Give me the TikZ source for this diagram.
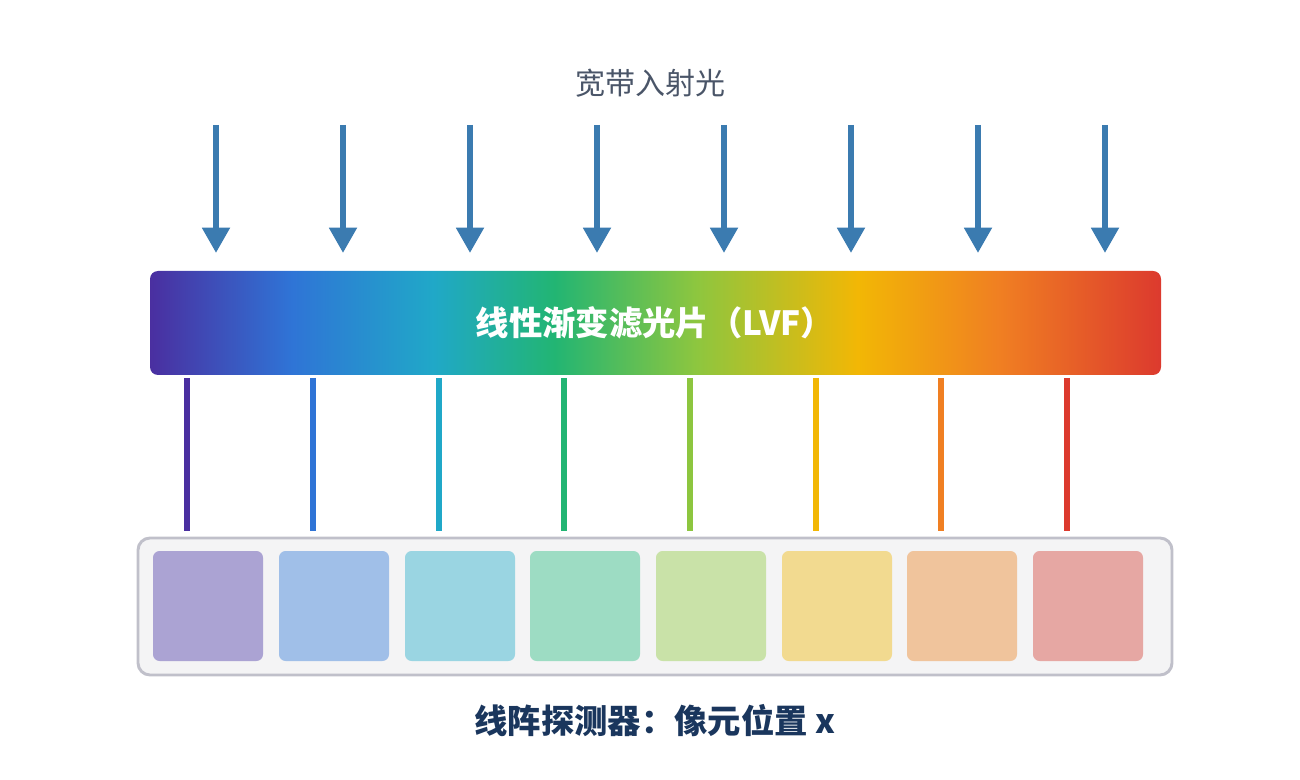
\documentclass[tikz,border=0pt]{standalone}
\usepackage{fontspec}
\setmainfont{Noto Sans CJK SC}
\usetikzlibrary{arrows.meta,positioning}
\definecolor{rayblue}{HTML}{3B7BB0}
\definecolor{titlegray}{HTML}{4A5568}
\definecolor{navy}{HTML}{1A365D}
\definecolor{lvfA}{HTML}{4A2FA0}
\definecolor{lvfB}{HTML}{2F74D6}
\definecolor{lvfC}{HTML}{20A8C8}
\definecolor{lvfD}{HTML}{22B573}
\definecolor{lvfE}{HTML}{8DC63F}
\definecolor{lvfF}{HTML}{F2B705}
\definecolor{lvfG}{HTML}{F07F22}
\definecolor{lvfH}{HTML}{DC3A2E}
\definecolor{pixA}{HTML}{ABA3D3}
\definecolor{pixB}{HTML}{A0BFE8}
\definecolor{pixC}{HTML}{9AD5E2}
\definecolor{pixD}{HTML}{9DDCC3}
\definecolor{pixE}{HTML}{C9E2A8}
\definecolor{pixF}{HTML}{F2DA90}
\definecolor{pixG}{HTML}{F0C49C}
\definecolor{pixH}{HTML}{E6A7A3}
\pgfdeclarehorizontalshading{lvf}{100bp}{color(0bp)=(lvfA); color(25bp)=(lvfA);
  color(32bp)=(lvfB); color(39bp)=(lvfC); color(45bp)=(lvfD); color(52bp)=(lvfE);
  color(60bp)=(lvfF); color(67bp)=(lvfG); color(75bp)=(lvfH); color(100bp)=(lvfH)}
\tikzset{
  ray/.style={rayblue, line width=4.5pt, -{Triangle[width=20pt,length=19pt]}},
  beam/.style={line width=5pt},
  pixel/.style={rounded corners=5pt},
}

\begin{document}
\begin{tikzpicture}[x=0.75pt,y=-0.75pt]
\useasboundingbox (0,0) rectangle (1300,780);
\node[titlegray, font=\fontsize{22.5}{26}\selectfont] (title) at (650,83) {宽带入射光};
% incident light
\foreach \i/\x in {1/216,2/343,3/470,4/597,5/724,6/851,7/978,8/1105} {
  \coordinate (src-\i) at (\x,125);
  \coordinate (hit-\i) at (\x,253);
  \draw[ray] (src-\i) -- (hit-\i);
}
% filter
\shade[shading=lvf, rounded corners=6pt] (150,271) rectangle (1161,375);
\node[white, font=\bfseries\fontsize{25}{28}\selectfont] (lvf) at (655,323) {线性渐变滤光片（LVF）};
% detector
\draw[draw=black!8!blue!10!gray!45, fill=blue!3!gray!8, line width=2.2pt, rounded corners=9pt]
  (138,538) rectangle (1172,675);
\foreach \i/\x/\c in {1/153/A,2/279/B,3/405/C,4/530/D,5/656/E,6/782/F,7/907/G,8/1033/H} {
  \fill[pixel, pix\c] (\x,551) rectangle ++(110,110);
  \coordinate (top-\i) at (\x+55-21,378);
  \coordinate (bot-\i) at (\x+55-21,531);
  \draw[beam, lvf\c] (top-\i) -- (bot-\i);
}
\node[navy, font=\bfseries\fontsize{25}{28}\selectfont] (det) at (655,721) {线阵探测器：像元位置 x};
\end{tikzpicture}
\end{document}
